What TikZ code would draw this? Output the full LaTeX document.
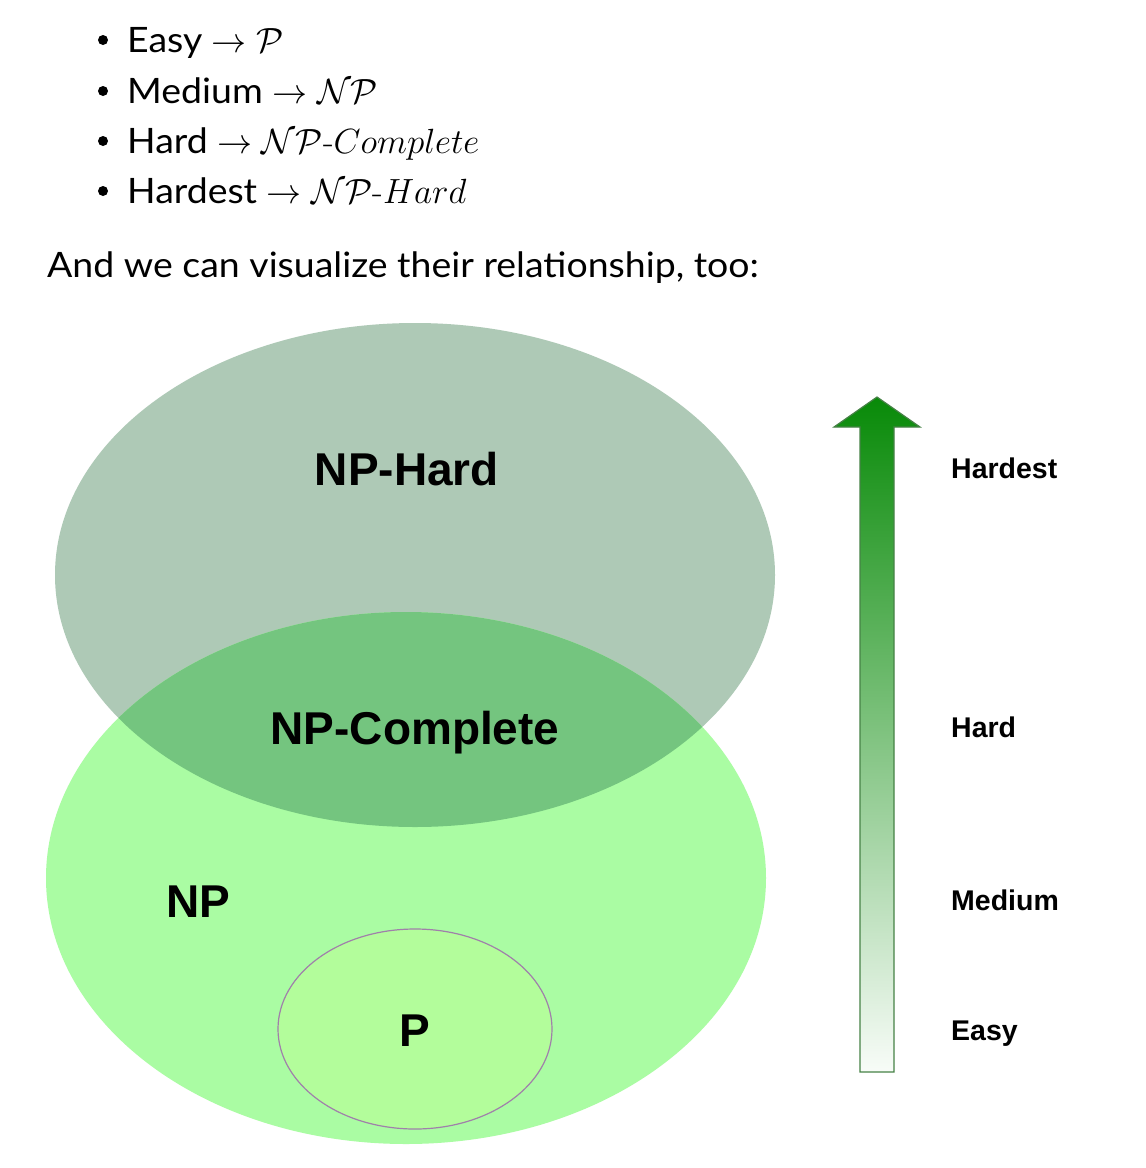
\RequirePackage{fix-cm}
\documentclass[tikz,border=0pt]{standalone}
\usepackage{amsmath}
\usepackage{fontspec}
\setmainfont{Lato}[FakeStretch=1.07]
\newfontfamily\labfont{Liberation Sans}
\newcommand{\mhyph}{\text{\fontfamily{lmr}\selectfont -}}
\definecolor{nphard}{RGB}{174,201,182}
\definecolor{npfill}{RGB}{170,252,163}
\definecolor{npc}{RGB}{116,197,127}
\definecolor{pfill}{RGB}{179,253,155}
\definecolor{pedge}{RGB}{160,128,170}
\definecolor{arrtop}{RGB}{8,138,8}
\definecolor{arrmid}{RGB}{112,190,112}
\definecolor{arrbot}{RGB}{248,252,248}
\definecolor{arredge}{RGB}{70,130,70}
\begin{document}
\begin{tikzpicture}[x=1pt,y=-1pt,
  bodytext/.style={anchor=base west,inner sep=0pt,font=\fontsize{35}{42}\selectfont},
  setlabel/.style={anchor=base,inner sep=0pt,font=\labfont\bfseries\fontsize{46}{50}\selectfont},
  levellabel/.style={anchor=base west,inner sep=0pt,font=\labfont\bfseries\fontsize{28.5}{32}\selectfont},
  bulletdot/.style={circle,fill=black,inner sep=0pt,minimum size=10pt}]
\useasboundingbox (0,0) rectangle (1146,1168);
\fill[white] (0,0) rectangle (1146,1168);
% bullets
\node[bulletdot] (b1) at (103,40) {};
\node[bulletdot] (b2) at (103,91) {};
\node[bulletdot] (b3) at (103,141) {};
\node[bulletdot] (b4) at (103,191) {};
\node[bodytext] (t1) at (127,52) {Easy $\to \mathcal{P}$};
\node[bodytext] (t2) at (127,103) {Medium $\to \mathcal{N}\mathcal{P}$};
\node[bodytext] (t3) at (127,153) {Hard $\to \mathcal{N}\mathcal{P}\mhyph Complete$};
\node[bodytext] (t4) at (127,203) {Hardest $\to \mathcal{N}\mathcal{P}\mhyph Hard$};
\node[bodytext] (t5) at (47,277) {And we can visualize their relationship, too:};
% ellipses
\fill[nphard] (415,575) ellipse [x radius=360, y radius=252];
\fill[npfill] (406,878) ellipse [x radius=360, y radius=266];
\begin{scope}
  \clip (406,878) ellipse [x radius=360, y radius=266];
  \fill[npc] (415,575) ellipse [x radius=360, y radius=252];
\end{scope}
\filldraw[fill=pfill,draw=pedge,line width=1.2pt] (415,1029) ellipse [x radius=137, y radius=100];
\node[setlabel] (nph) at (407,485) {NP-Hard};
\node[setlabel] (npcl) at (415,744) {NP-Complete};
\node[setlabel] (np) at (198,917) {NP};
\node[setlabel] (p) at (415,1046) {P};
% arrow
\shade[top color=arrtop,middle color=arrmid,bottom color=arrbot]
  (860,1072) -- (860,427) -- (834,427) -- (877,397) -- (920,427) -- (894,427) -- (894,1072) -- cycle;
\draw[arredge,line width=1.2pt,line join=miter]
  (860,1072) -- (860,427) -- (834,427) -- (877,397) -- (920,427) -- (894,427) -- (894,1072) -- cycle;
\node[levellabel] (l1) at (951,478) {Hardest};
\node[levellabel] (l2) at (951,737) {Hard};
\node[levellabel] (l3) at (951,910) {Medium};
\node[levellabel] (l4) at (951,1040) {Easy};
\end{tikzpicture}
\end{document}
